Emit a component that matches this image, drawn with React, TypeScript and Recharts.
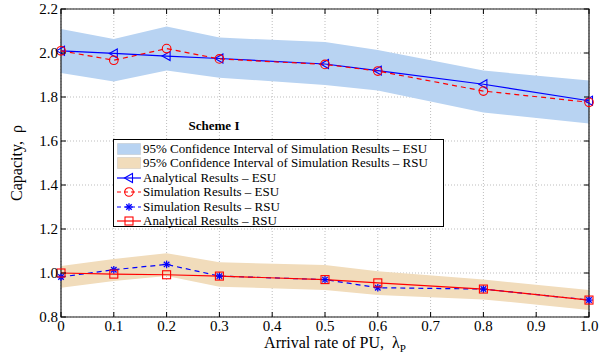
import React from 'react';
import {
  ComposedChart,
  Line,
  Area,
  XAxis,
  YAxis,
  CartesianGrid,
  ReferenceArea,
  Legend,
} from 'recharts';

// ---------- data ----------
const lambdaP = [0, 0.1, 0.2, 0.3, 0.5, 0.6, 0.8, 1.0];
const esuAnalytical = [2.01, 1.998, 1.986, 1.975, 1.95, 1.92, 1.858, 1.783];
const esuSimulation = [2.01, 1.967, 2.02, 1.973, 1.948, 1.918, 1.827, 1.776];
const esuCiLower = [1.909, 1.87, 1.92, 1.888, 1.855, 1.829, 1.73, 1.68];
const esuCiUpper = [2.109, 2.064, 2.12, 2.07, 2.05, 2.014, 1.92, 1.875];
const rsuAnalytical = [1.0, 0.995, 0.992, 0.986, 0.97, 0.955, 0.927, 0.877];
const rsuSimulation = [0.982, 1.015, 1.039, 0.986, 0.97, 0.933, 0.927, 0.877];
const rsuCiLower = [0.933, 0.964, 0.986, 0.938, 0.923, 0.9, 0.88, 0.832];
const rsuCiUpper = [1.032, 1.064, 1.09, 1.049, 1.036, 1.008, 0.97, 0.923];

const xTicks = [0, 0.1, 0.2, 0.3, 0.4, 0.5, 0.6, 0.7, 0.8, 0.9, 1.0];
const yTicks = [0.8, 1.0, 1.2, 1.4, 1.6, 1.8, 2.0, 2.2];

const legendLabels = [
  '95% Confidence Interval of Simulation Results \u2013 ESU',
  '95% Confidence Interval of Simulation Results \u2013 RSU',
  'Analytical Results \u2013 ESU',
  'Simulation Results \u2013 ESU',
  'Simulation Results \u2013 RSU',
  'Analytical Results \u2013 RSU',
];
const schemeTitle = 'Scheme I';

const data = lambdaP.map((x, i) => ({
  x,
  esuA: esuAnalytical[i],
  esuS: esuSimulation[i],
  esuBand: [esuCiLower[i], esuCiUpper[i]],
  rsuA: rsuAnalytical[i],
  rsuS: rsuSimulation[i],
  rsuBand: [rsuCiLower[i], rsuCiUpper[i]],
}));

// ---------- style / layout ----------
const W = 607;
const H = 358;
const M = { top: 9, right: 18, bottom: 0, left: 0 };
const Y_AXIS_W = 61;
const X_AXIS_H = 41;
const PLOT_LEFT = M.left + Y_AXIS_W;
const PLOT_RIGHT = W - M.right;
const PLOT_TOP = M.top;
const PLOT_BOTTOM = H - X_AXIS_H - M.bottom;
const FONT = '"Liberation Serif", "Times New Roman", serif';
const BLUE = '#0000ff';
const RED = '#ff0000';
const BAND_BLUE = '#b8d3f2';
const BAND_TAN = '#f1dcbb';
const TICK_LEN = 5;

// ---------- markers ----------
const TriLeft = ({ cx, cy }: any) =>
  cx == null ? null : (
    <polygon
      points={`${cx - 4.5},${cy} ${cx + 3.5},${cy - 4.5} ${cx + 3.5},${cy + 4.5}`}
      fill="none"
      stroke={BLUE}
      strokeWidth={1.1}
    />
  );
const CircleMk = ({ cx, cy }: any) =>
  cx == null ? null : <circle cx={cx} cy={cy} r={4.3} fill="none" stroke={RED} strokeWidth={1.1} />;
const SquareMk = ({ cx, cy }: any) =>
  cx == null ? null : (
    <rect x={cx - 4} y={cy - 4} width={8} height={8} fill="none" stroke={RED} strokeWidth={1.1} />
  );
const StarMk = ({ cx, cy }: any) => {
  if (cx == null) return null;
  const r = 3.8;
  const d = r * 0.72;
  return (
    <g stroke={BLUE} strokeWidth={1.3}>
      <line x1={cx - r} y1={cy} x2={cx + r} y2={cy} />
      <line x1={cx} y1={cy - r} x2={cx} y2={cy + r} />
      <line x1={cx - d} y1={cy - d} x2={cx + d} y2={cy + d} />
      <line x1={cx - d} y1={cy + d} x2={cx + d} y2={cy - d} />
    </g>
  );
};

// ---------- ticks ----------
const XTick = ({ x, y, payload }: any) => {
  const v = payload.value;
  const label = v === 0 ? '0' : v.toFixed(1);
  return (
    <g>
      <line x1={x} y1={PLOT_BOTTOM} x2={x} y2={PLOT_BOTTOM - TICK_LEN} stroke="#000" strokeWidth={1} />
      <line x1={x} y1={PLOT_TOP} x2={x} y2={PLOT_TOP + TICK_LEN} stroke="#000" strokeWidth={1} />
      <text x={x} y={y + 14} textAnchor="middle" fontFamily={FONT} fontSize={15} fill="#000">
        {label}
      </text>
    </g>
  );
};
const YTick = ({ x, y, payload }: any) => {
  const v = payload.value;
  return (
    <g>
      <line x1={PLOT_LEFT} y1={y} x2={PLOT_LEFT + TICK_LEN} y2={y} stroke="#000" strokeWidth={1} />
      <line x1={PLOT_RIGHT} y1={y} x2={PLOT_RIGHT - TICK_LEN} y2={y} stroke="#000" strokeWidth={1} />
      <text x={x - 3} y={y + 5} textAnchor="end" fontFamily={FONT} fontSize={15} fill="#000">
        {v.toFixed(1)}
      </text>
    </g>
  );
};

// ---------- legend ----------
const LegendSym = ({ kind }: { kind: number }) => {
  const w = 24;
  const h = 14;
  const cy = h / 2;
  const cx = w / 2;
  if (kind === 0 || kind === 1) {
    return (
      <svg width={w} height={h}>
        <rect
          x={0.5}
          y={1.5}
          width={w - 1}
          height={h - 3}
          fill={kind === 0 ? BAND_BLUE : BAND_TAN}
          stroke="#aaaaaa"
          strokeDasharray="1 1"
          strokeWidth={0.6}
        />
      </svg>
    );
  }
  const color = kind === 2 || kind === 4 ? BLUE : RED;
  const dash = kind === 3 || kind === 4 ? '4 3' : undefined;
  return (
    <svg width={w} height={h}>
      <line x1={0} y1={cy} x2={w} y2={cy} stroke={color} strokeWidth={1.2} strokeDasharray={dash} />
      {kind === 2 && <TriLeft cx={cx} cy={cy} />}
      {kind === 3 && <CircleMk cx={cx} cy={cy} />}
      {kind === 4 && <StarMk cx={cx} cy={cy} />}
      {kind === 5 && <SquareMk cx={cx} cy={cy} />}
    </svg>
  );
};

const LegendBox = () => (
  <div style={{ position: 'relative', width: 331, fontFamily: FONT, color: '#000' }}>
    <div
      style={{
        position: 'absolute',
        left: 101,
        top: 0,
        transform: 'translateX(-50%)',
        fontWeight: 'bold',
        fontSize: 13,
        lineHeight: '16px',
        whiteSpace: 'nowrap',
      }}
    >
      {schemeTitle}
    </div>
    <div
      style={{
        position: 'absolute',
        left: 0,
        top: 21,
        width: 331,
        height: 88,
        boxSizing: 'border-box',
        border: '1.5px solid #000',
        background: '#fff',
        paddingTop: 1.5,
        paddingLeft: 3,
      }}
    >
      {legendLabels.map((lab, i) => (
        <div
          key={i}
          style={{
            display: 'flex',
            alignItems: 'center',
            height: 14.5,
            fontSize: 13,
            whiteSpace: 'nowrap',
          }}
        >
          <LegendSym kind={i} />
          <span style={{ marginLeft: 2 }}>{lab}</span>
        </div>
      ))}
    </div>
  </div>
);

const YLabel = ({ viewBox }: any) => {
  const cx = 22;
  const cy = viewBox.y + viewBox.height / 2;
  return (
    <text
      x={cx}
      y={cy}
      transform={`rotate(-90 ${cx} ${cy})`}
      textAnchor="middle"
      fontFamily={FONT}
      fontSize={16}
      fill="#000"
    >
      {'Capacity,\u00a0\u00a0\u03c1'}
    </text>
  );
};

const XLabel = ({ viewBox }: any) => {
  const cx = viewBox.x + viewBox.width / 2 + 10;
  return (
    <text x={cx} y={PLOT_BOTTOM + 31} textAnchor="middle" fontFamily={FONT} fontSize={16} fill="#000">
      {'Arrival rate of PU,\u00a0\u00a0\u03bb'}
      <tspan fontSize={11} dy={4}>
        P
      </tspan>
    </text>
  );
};

export default function App() {
  return (
    <div style={{ position: 'absolute', left: 0, top: 0, width: W, height: H, background: '#fff' }}>
      <ComposedChart width={W} height={H} data={data} margin={M}>
        <CartesianGrid stroke="#bdbdbd" strokeDasharray="1 2" horizontalValues={yTicks} verticalValues={xTicks} />
        <XAxis
          dataKey="x"
          type="number"
          domain={[0, 1]}
          ticks={xTicks}
          interval={0}
          height={X_AXIS_H}
          axisLine={false}
          tickLine={false}
          tickSize={0}
          tickMargin={0}
          tick={<XTick />}
          label={<XLabel />}
        />
        <YAxis
          type="number"
          domain={[0.8, 2.2]}
          ticks={yTicks}
          interval={0}
          width={Y_AXIS_W}
          axisLine={false}
          tickLine={false}
          tickSize={0}
          tickMargin={0}
          tick={<YTick />}
          label={<YLabel />}
        />
        <Area
          dataKey="esuBand"
          type="linear"
          fill={BAND_BLUE}
          fillOpacity={1}
          stroke="none"
          isAnimationActive={false}
          legendType="none"
        />
        <Area
          dataKey="rsuBand"
          type="linear"
          fill={BAND_TAN}
          fillOpacity={1}
          stroke="none"
          isAnimationActive={false}
          legendType="none"
        />
        <Line
          dataKey="esuA"
          type="linear"
          stroke={BLUE}
          strokeWidth={1.2}
          dot={(p: any) => <TriLeft key={`ea${p.index}`} cx={p.cx} cy={p.cy} />}
          isAnimationActive={false}
        />
        <Line
          dataKey="esuS"
          type="linear"
          stroke={RED}
          strokeWidth={1.2}
          strokeDasharray="5 4"
          dot={(p: any) => <CircleMk key={`es${p.index}`} cx={p.cx} cy={p.cy} />}
          isAnimationActive={false}
        />
        <Line
          dataKey="rsuS"
          type="linear"
          stroke={BLUE}
          strokeWidth={1.2}
          strokeDasharray="5 4"
          dot={(p: any) => <StarMk key={`rs${p.index}`} cx={p.cx} cy={p.cy} />}
          isAnimationActive={false}
        />
        <Line
          dataKey="rsuA"
          type="linear"
          stroke={RED}
          strokeWidth={1.2}
          dot={(p: any) => <SquareMk key={`ra${p.index}`} cx={p.cx} cy={p.cy} />}
          isAnimationActive={false}
        />
        <ReferenceArea
          x1={0}
          x2={1}
          y1={0.8}
          y2={2.2}
          fill="none"
          stroke="#1a1a1a"
          strokeWidth={1.2}
          ifOverflow="visible"
        />
        <Legend
          layout="horizontal"
          verticalAlign="middle"
          align="center"
          content={() => <LegendBox />}
          wrapperStyle={{ position: 'absolute', left: 113, top: 118, width: 331, height: 110 }}
        />
      </ComposedChart>
    </div>
  );
}
